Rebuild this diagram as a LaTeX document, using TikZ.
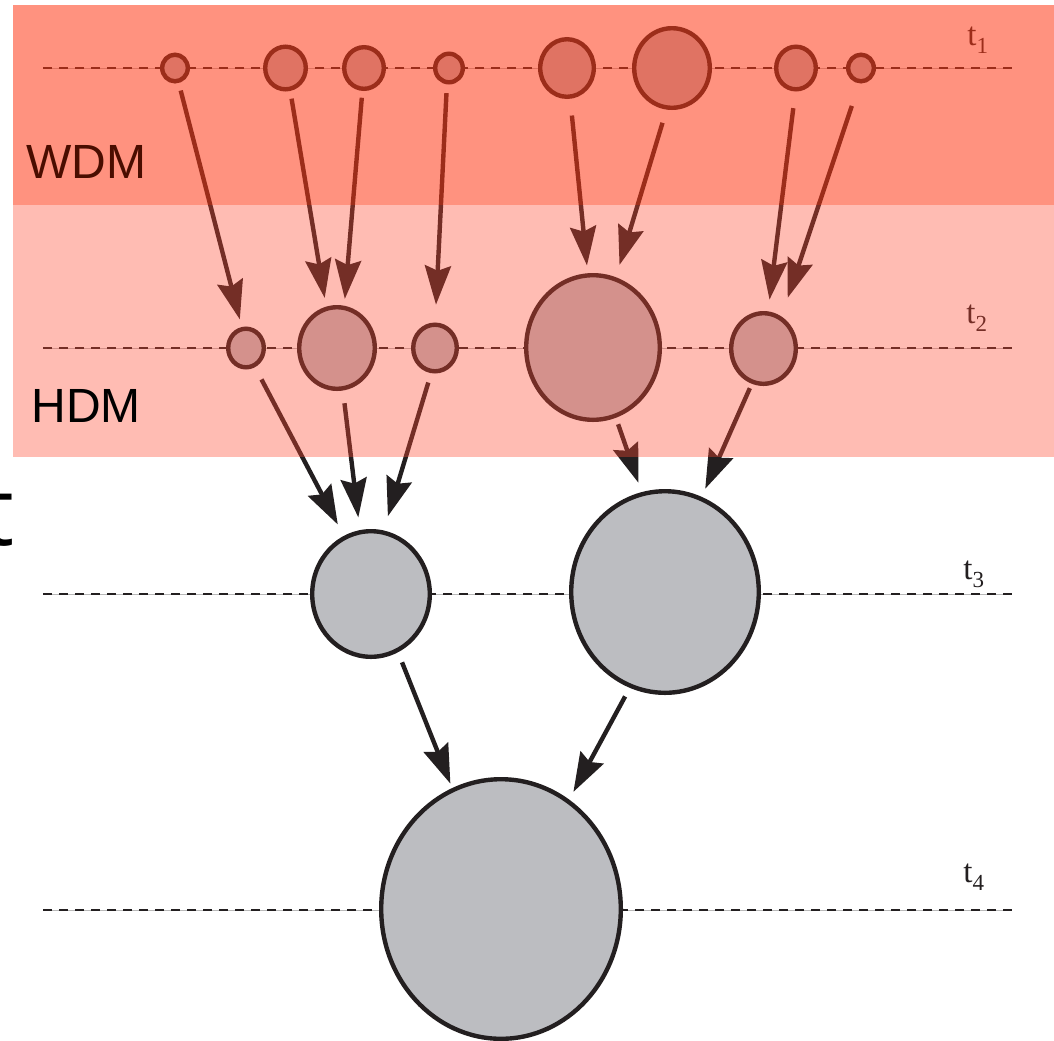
\documentclass[tikz,border=0pt]{standalone}
\usepackage{fontspec}
\usetikzlibrary{arrows.meta,shapes.geometric}
\newfontfamily\lserif{Liberation Serif}
\newfontfamily\lsans{Liberation Sans}
\newfontfamily\osans{Open Sans}
\definecolor{ink}{RGB}{35,31,32}
\definecolor{blobfill}{RGB}{188,189,193}
\definecolor{hdmred}{RGB}{255,72,50}
\definecolor{wdmred}{RGB}{255,45,0}
\definecolor{thinline}{RGB}{185,185,185}
\tikzset{
  blob/.style n args={2}{ellipse, draw=ink, fill=blobfill, line width=2.2pt,
    inner sep=0pt, outer sep=0pt,
    minimum width=#1*0.5pt-2.2pt, minimum height=#2*0.5pt-2.2pt},
  flow/.style={draw=ink, line width=2.2pt,
    -{Stealth[length=19.5pt,width=13pt,inset=2.5pt]}},
  thinrule/.style={draw=thinline, line width=0.5pt},
  dashrule/.style={draw=ink, line width=1.3pt, dash pattern=on 4.5pt off 3.5pt},
  tlab/.style={anchor=base west, inner sep=0pt, text=ink,
    font=\lserif\fontsize{16.5}{18}\selectfont},
  bandlab/.style={anchor=base west, inner sep=0pt,
    font=\lsans\fontsize{24}{28}\selectfont},
}
\newcommand{\tsub}[1]{t\raisebox{-4pt}{\fontsize{11.5}{12}\selectfont #1}}
\begin{document}
\begin{tikzpicture}[x=0.5pt,y=-0.5pt]
\useasboundingbox (0,0) rectangle (1054,1040);
\begin{scope}
\clip (0,0) rectangle (1054,1040);

% time lines
\foreach \yy in {68,348,594,910}{
  \draw[thinrule] (43,\yy) -- (1012,\yy);
  \draw[dashrule] (43,\yy) -- (1012,\yy);
}

% t1 row
\node[blob={30}{31}] (c1) at (175,68) {};
\node[blob={45}{47}] (c2) at (285.5,68) {};
\node[blob={44}{46}] (c3) at (364,68) {};
\node[blob={32}{33}] (c4) at (449,68) {};
\node[blob={58}{62}] (c5) at (567,68) {};
\node[blob={80}{84}] (c6) at (672,68) {};
\node[blob={44}{47}] (c7) at (796,68) {};
\node[blob={30}{31}] (c8) at (861,68) {};
% t2 row
\node[blob={40}{43}] (h1) at (246,348) {};
\node[blob={80}{86}] (h2) at (337,348) {};
\node[blob={48}{51}] (h3) at (435,348) {};
\node[blob={138}{149}] (h4) at (593,347.5) {};
\node[blob={69}{75}] (h5) at (763.5,348.5) {};
% t3 row
\node[blob={122}{130}] (g1) at (371,594) {};
\node[blob={192}{206}] (g2) at (665,592) {};
% t4 row
\node[blob={244}{264}] (b) at (501,909) {};

% connectors t1 -> t2
\draw[flow, shorten <=5pt, shorten >=5pt] (c1.-76) -- (h1.101);
\draw[flow, shorten <=5pt, shorten >=5.5pt] (c2.-78) -- (h2.105);
\draw[flow, shorten <=4.5pt, shorten >=4.5pt] (c3.-94) -- (h2.80);
\draw[flow, shorten <=5.5pt, shorten >=10pt] (c4.-98) -- (h3.90);
\draw[flow, shorten <=9.5pt, shorten >=5pt] (c5.-84) -- (h4.94);
\draw[flow, shorten <=8pt, shorten >=7.5pt] (c6.-97) -- (h4.72);
\draw[flow, shorten <=9.5pt, shorten >=7pt] (c7.-91) -- (h5.83);
\draw[flow, shorten <=13pt, shorten >=11pt] (c8.-94) -- (h5.60);
% t2 -> t3
\draw[flow, shorten <=8pt, shorten >=7.5pt] (h1.-65) -- (g1.115);
\draw[flow, shorten <=7.5pt, shorten >=7.5pt] (h2.-82) -- (g1.100);
\draw[flow, shorten <=6pt, shorten >=8.5pt] (h3.-98) -- (g1.79);
\draw[flow, shorten <=4.5pt, shorten >=6pt] (h4.-72) -- (g2.103.5);
\draw[flow, shorten <=3.5pt, shorten >=5.5pt] (h5.-108) -- (g2.69);
% t3 -> t4
\draw[flow, shorten <=6.5pt, shorten >=3.5pt] (g1.-65) -- (b.112.7);
\draw[flow, shorten <=6pt, shorten >=5.5pt] (g2.-110.5) -- (b.58.7);

% time labels
\node[tlab] (l1) at (967,45) {\tsub{1}};
\node[tlab] (l2) at (966,323) {\tsub{2}};
\node[tlab] (l3) at (963,579) {\tsub{3}};
\node[tlab] (l4) at (963,882) {\tsub{4}};

% bands
\fill[hdmred, opacity=0.37] (13,5) rectangle (1054,457);
\node[bandlab] (wdm) at (26,178) {WDM};
\fill[wdmred, opacity=0.29] (13,5) rectangle (1054,205);
\node[bandlab] (hdm) at (31,422) {HDM};

% large t at left edge
\node[anchor=base west, inner sep=0pt, font=\osans\fontsize{48}{50}\selectfont] (bigt) at (-20,545) {t};
\end{scope}
\end{tikzpicture}
\end{document}
